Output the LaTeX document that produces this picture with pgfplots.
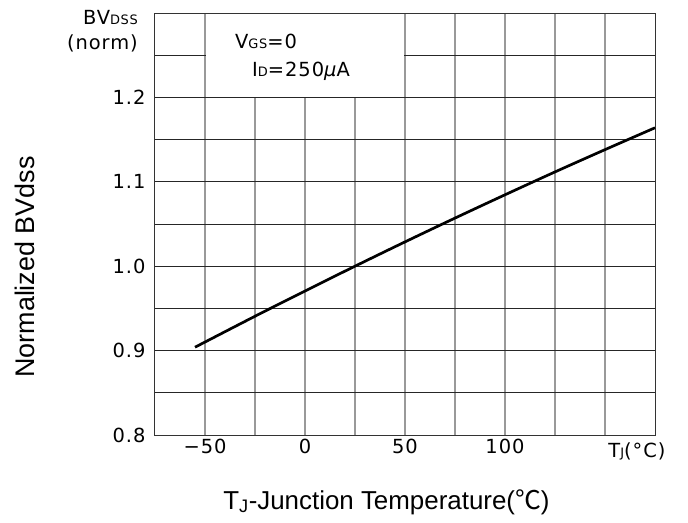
\documentclass[border=0pt]{standalone}
\usepackage{fontspec}
\setmainfont{DejaVu Sans}[LetterSpace=5]
\newfontfamily\arial{Liberation Sans}
\newfontfamily\cjk{Noto Sans CJK SC}
\usepackage{pgfplots}
\pgfplotsset{compat=1.18}
\newcommand{\sm}[1]{{\fontsize{13}{14}\selectfont #1}}
\begin{document}
\begin{tikzpicture}
\path[use as bounding box] (-155bp,-88bp) rectangle (533bp,435bp);
\begin{axis}[
  at={(0,0)}, anchor=south west, scale only axis,
  width=500bp, height=422bp,
  xmin=-75, xmax=175, ymin=0.8, ymax=1.3,
  clip=false,
  xtick={-50,-25,0,25,50,75,100,125,150},
  xticklabels={−50,,0,,50,,100,,},
  ytick={0.8,0.85,0.9,0.95,1.0,1.05,1.1,1.15,1.2,1.25},
  yticklabels={0.8,,0.9,,1.0,,1.1,,1.2,},
  grid=major,
  x grid style={black!40, line width=1.4bp},
  y grid style={black!85, line width=0.9bp},
  axis line style={black!80, line width=1bp},
  major tick length=0pt,
  tick label style={font=\fontsize{19.5}{21}\selectfont},
  xticklabel style={yshift=-1bp},
  yticklabel style={xshift=-6bp},
]
\fill[white] ([xshift=0.9bp,yshift=0.6bp]axis cs:-50,1.2) rectangle ([xshift=-0.9bp,yshift=-0.6bp]axis cs:50,1.3);
\addplot[black, line width=2.7bp, smooth] coordinates {
  (-55,0.904) (-25,0.9407) (0,0.9706) (25,1.000) (50,1.0288) (75,1.0570)
  (100,1.0846) (125,1.1117) (150,1.1381) (175,1.164)
};
\node[anchor=base west, font=\fontsize{19.5}{21}\selectfont, inner sep=0pt] at ([xshift=80bp,yshift=-35bp]axis description cs:0,1) {V\sm{GS}=0};
\node[anchor=base west, font=\fontsize{19.5}{21}\selectfont, inner sep=0pt] at ([xshift=97bp,yshift=-63bp]axis description cs:0,1) {I\sm{D}=250{\itshape μ}A};
\node[anchor=base east, font=\fontsize{19.5}{21}\selectfont, inner sep=0pt] at ([xshift=-17bp,yshift=-11bp]axis description cs:0,1) {BV\sm{DSS}};
\node[anchor=base east, font=\fontsize{19.5}{21}\selectfont, inner sep=0pt] at ([xshift=-17bp,yshift=-36bp]axis description cs:0,1) {(norm)};
\node[anchor=base, font=\fontsize{19.5}{21}\selectfont] at ([yshift=-22bp]axis cs:166,0.8) {T\sm{J}(°C)};
\node[anchor=base, font=\arial\fontsize{26}{28}\selectfont] at ([yshift=-74bp]axis description cs:0.463,0) {T\textsubscript{J}-Junction Temperature({\cjk ℃})};
\node[rotate=90, font=\arial\fontsize{27}{29}\selectfont] at ([xshift=-130bp]axis description cs:0,0.398) {Normalized BVdss};
\end{axis}
\end{tikzpicture}
\end{document}
